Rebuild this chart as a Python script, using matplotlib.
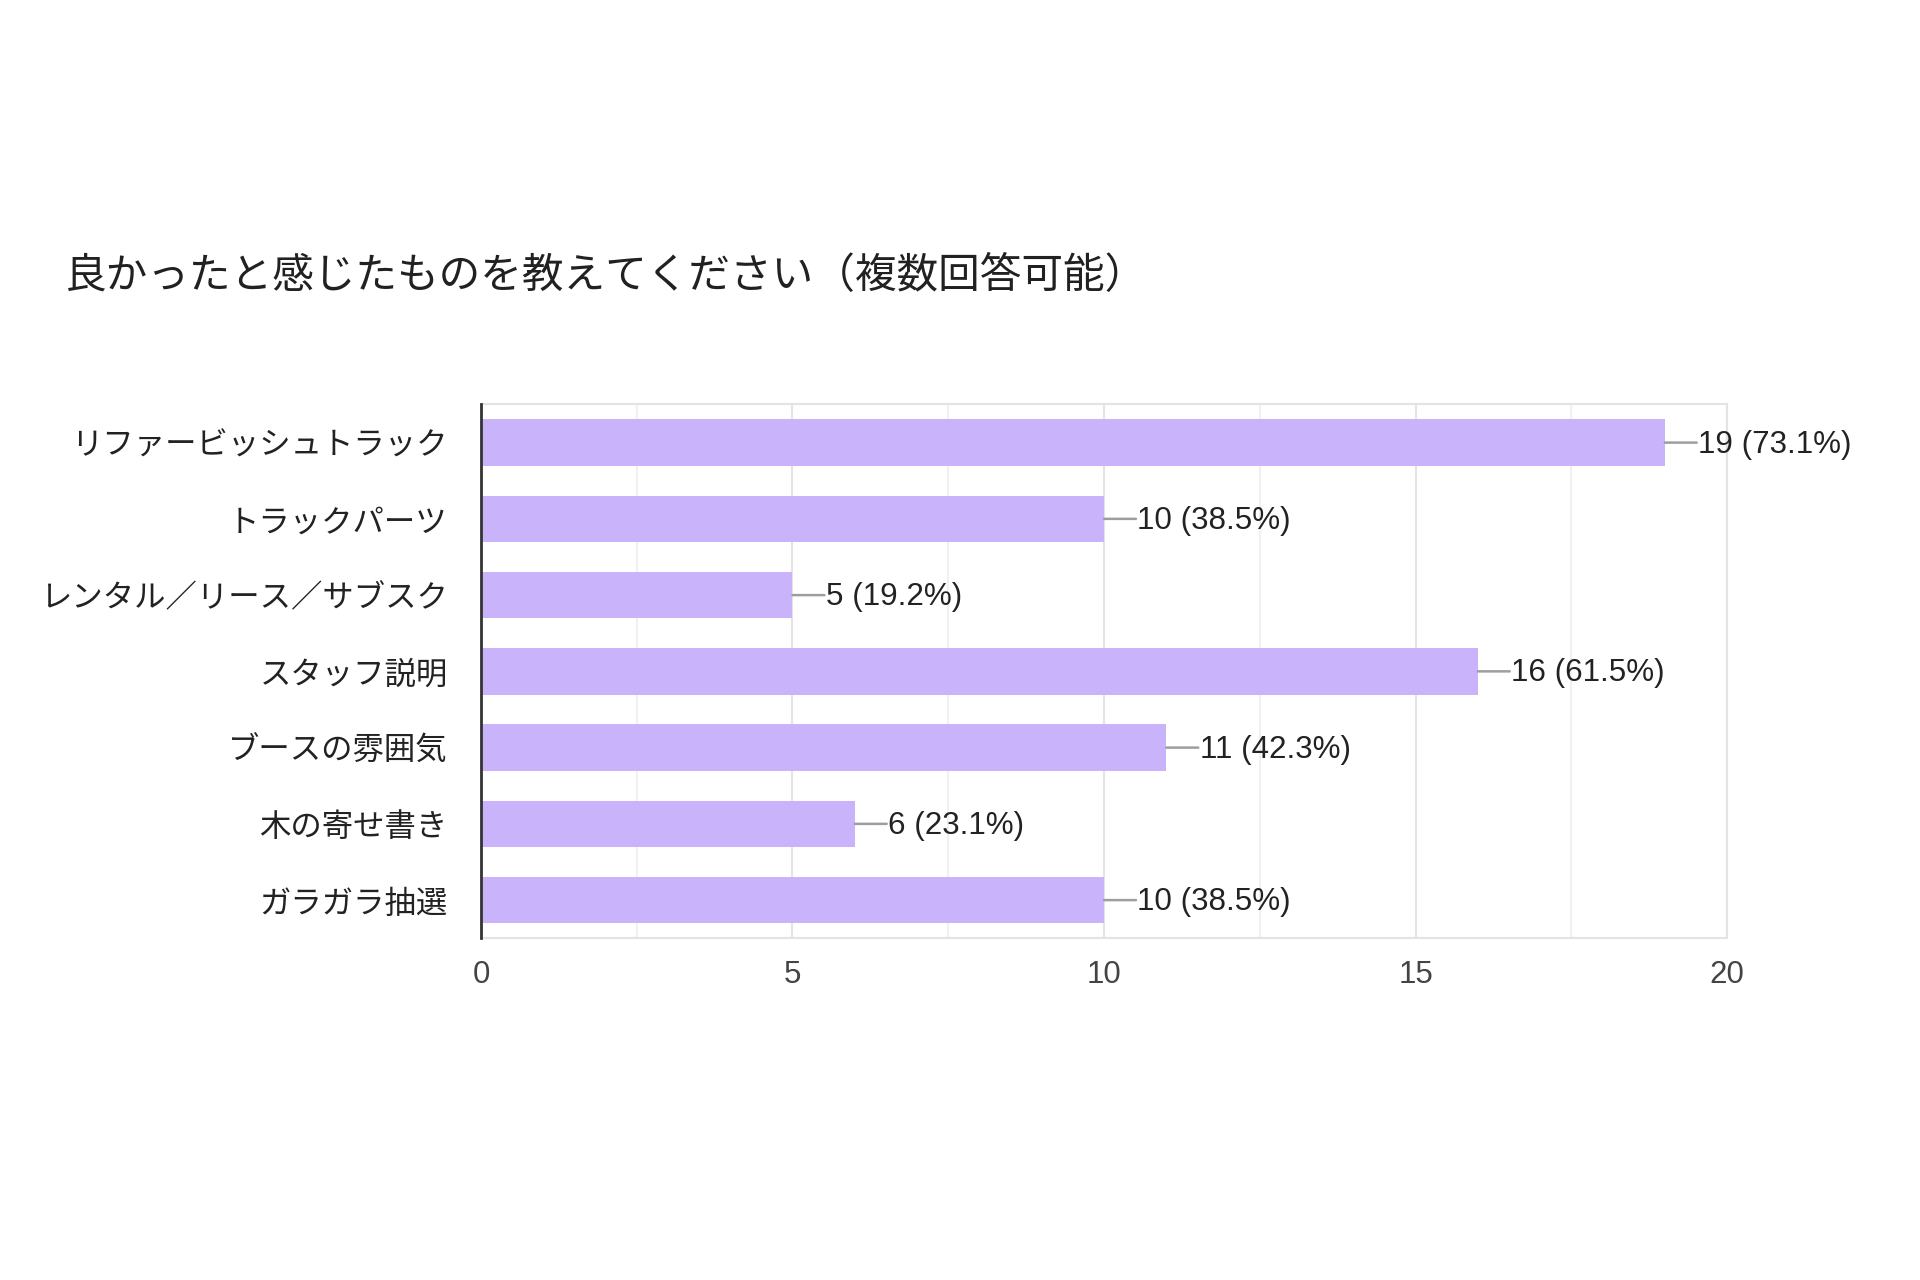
import matplotlib
matplotlib.use("Agg")
import matplotlib.pyplot as plt
from matplotlib.ticker import MultipleLocator

plt.rcParams['font.family'] = ['Liberation Sans', 'Noto Sans CJK JP', 'DejaVu Sans']

# data
title = "良かったと感じたものを教えてください（複数回答可能）"
categories = [
    "リファービッシュトラック",
    "トラックパーツ",
    "レンタル／リース／サブスク",
    "スタッフ説明",
    "ブースの雰囲気",
    "木の寄せ書き",
    "ガラガラ抽選",
]
counts = [19, 10, 5, 16, 11, 6, 10]
percents = [73.1, 38.5, 19.2, 61.5, 42.3, 23.1, 38.5]
x_ticks = [0, 5, 10, 15, 20]

bar_color = '#c9b4fb'
jp_font = ['Noto Sans CJK JP', 'DejaVu Sans']

fig = plt.figure(figsize=(19.2, 12.8), dpi=100)
ax = fig.add_axes([0.2505, 0.267, 0.649, 0.417])

y_pos = list(range(len(categories)))
ax.barh(y_pos, counts, height=0.61, color=bar_color, zorder=3)

ax.set_xlim(0, 20)
ax.set_ylim(len(categories) - 0.5, -0.5)
ax.set_xticks(x_ticks)
ax.xaxis.set_minor_locator(MultipleLocator(2.5))
ax.grid(axis='x', which='major', color='#e4e4e4', linewidth=1.5, zorder=0)
ax.grid(axis='x', which='minor', color='#f1f1f1', linewidth=1.5, zorder=0)
ax.tick_params(axis='both', which='both', length=0)
ax.tick_params(axis='x', labelsize=22.5, labelcolor='#444444', pad=16)

ax.set_yticks(y_pos)
ax.set_yticklabels(categories, fontsize=22.6, color='#222222', family=jp_font)
ax.tick_params(axis='y', pad=24)

for side in ['top', 'right', 'bottom']:
    ax.spines[side].set_color('#e3e3e3')
    ax.spines[side].set_linewidth(1.5)
ax.spines['left'].set_color('#333333')
ax.spines['left'].set_linewidth(2)
ax.spines['left'].set_zorder(4)

# value labels with short horizontal connector lines
for i, (c, p) in enumerate(zip(counts, percents)):
    ax.annotate(
        "", xy=(c, i), xytext=(23, 0), textcoords='offset points',
        arrowprops=dict(arrowstyle='-', color='#9e9e9e', lw=1.8,
                        shrinkA=0, shrinkB=0),
        annotation_clip=False,
    )
    ax.annotate(
        f"{c} ({p:.1f}%)",
        xy=(c, i), xytext=(24, -1.5), textcoords='offset points',
        ha='left', va='center', fontsize=22.6, color='#222222',
        annotation_clip=False,
    )

fig.text(0.034, 1 - 277 / 1280, title, fontsize=30, color='#212121',
         family=jp_font, ha='left', va='center')

fig.savefig('out.png', dpi=100, facecolor='white')
